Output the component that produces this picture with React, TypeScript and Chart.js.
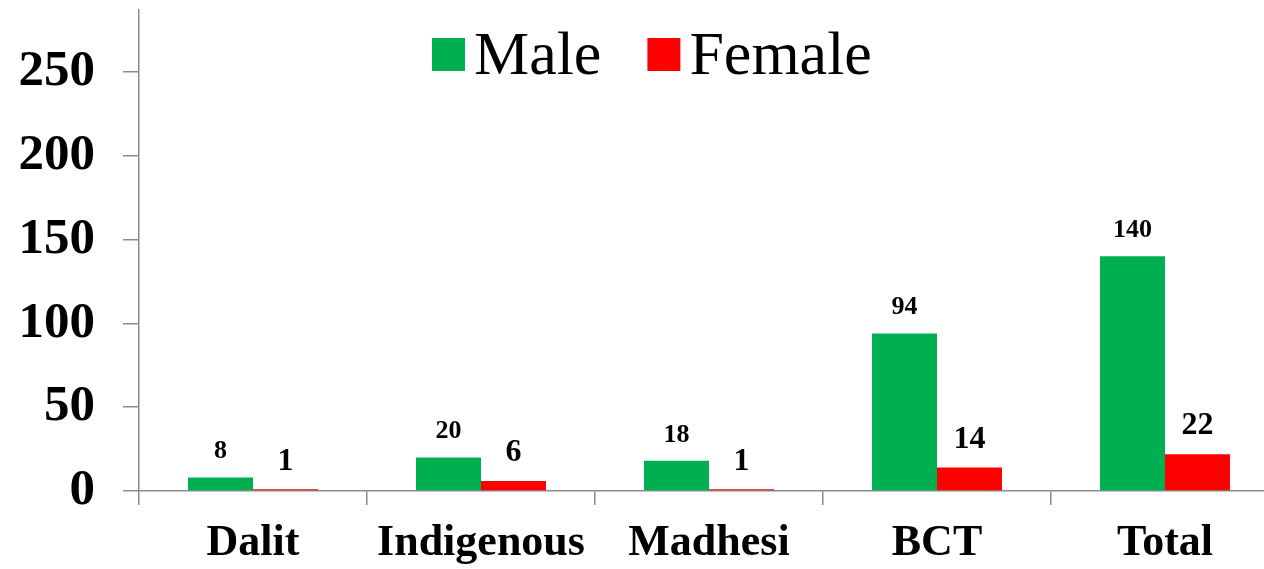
import React, { useEffect, useRef } from "react";
import { Chart, registerables } from "chart.js";
Chart.register(...registerables);

const categories = ["Dalit", "Indigenous", "Madhesi", "BCT", "Total"];
const maleValues = [8, 20, 18, 94, 140];
const femaleValues = [1, 6, 1, 14, 22];
const yTicks = [0, 50, 100, 150, 200, 250];
const seriesNames = ["Male", "Female"];
const seriesColors = ["#00B050", "#FF0000"];

const SERIF = '"Liberation Serif", "Times New Roman", serif';
const AXIS_COLOR = "#8c8c8c";

const valueLabelPlugin = {
  id: "valueLabels",
  afterDatasetsDraw(chart: any) {
    const ctx = chart.ctx;
    ctx.save();
    ctx.fillStyle = "#000";
    ctx.textAlign = "center";
    ctx.textBaseline = "middle";
    chart.data.datasets.forEach((ds: any, di: number) => {
      const meta = chart.getDatasetMeta(di);
      const size = di === 0 ? 26 : 32;
      const off = di === 0 ? 26 : 28;
      ctx.font = `bold ${size}px ${SERIF}`;
      meta.data.forEach((el: any, i: number) => {
        ctx.fillText(String(ds.data[i]), el.x, el.y - off);
      });
    });
    ctx.restore();
  },
};

const legendPlugin = {
  id: "customLegend",
  afterDraw(chart: any) {
    const ctx = chart.ctx;
    ctx.save();
    ctx.font = `62px ${SERIF}`;
    ctx.textBaseline = "alphabetic";
    ctx.textAlign = "left";
    let x = 432;
    const baseline = 74;
    chart.data.datasets.forEach((ds: any) => {
      ctx.fillStyle = ds.backgroundColor;
      ctx.fillRect(x, 38, 33, 33);
      x += 33 + 9;
      ctx.fillStyle = "#000";
      ctx.fillText(ds.label, x, baseline);
      x += ctx.measureText(ds.label).width + 46;
    });
    ctx.restore();
  },
};

export default function App() {
  const ref = useRef<HTMLCanvasElement | null>(null);
  useEffect(() => {
    if (!ref.current) return;
    const chart = new Chart(ref.current, {
      type: "bar",
      data: {
        labels: categories,
        datasets: [
          {
            label: seriesNames[0],
            data: maleValues,
            backgroundColor: seriesColors[0],
            categoryPercentage: 0.57,
            barPercentage: 1,
          },
          {
            label: seriesNames[1],
            data: femaleValues,
            backgroundColor: seriesColors[1],
            categoryPercentage: 0.57,
            barPercentage: 1,
          },
        ],
      },
      options: {
        animation: false,
        responsive: true,
        maintainAspectRatio: false,
        layout: { padding: { top: 10, right: 11, left: 0, bottom: 0 } },
        plugins: {
          legend: { display: false },
          tooltip: { enabled: false },
        },
        scales: {
          x: {
            grid: {
              drawOnChartArea: false,
              drawTicks: true,
              tickLength: 14,
              color: AXIS_COLOR,
              lineWidth: 1.5,
            },
            border: { color: AXIS_COLOR, width: 1.5 },
            ticks: {
              color: "#000",
              font: { family: SERIF, size: 44, weight: "bold" },
              padding: 12,
              maxRotation: 0,
              autoSkip: false,
            },
            afterFit: (scale: any) => {
              scale.height = 78;
              scale.paddingLeft = 0;
              scale.paddingRight = 0;
            },
          },
          y: {
            min: 0,
            max: 287,
            afterBuildTicks: (scale: any) => {
              scale.ticks = yTicks.map((v) => ({ value: v }));
            },
            grid: {
              drawOnChartArea: false,
              drawTicks: true,
              tickLength: 16,
              color: AXIS_COLOR,
              lineWidth: 1.5,
            },
            border: { color: AXIS_COLOR, width: 1.5 },
            ticks: {
              color: "#000",
              font: { family: SERIF, size: 51, weight: "bold" },
              padding: 28,
            },
            afterFit: (scale: any) => {
              scale.width = 139;
              scale.paddingTop = 0;
              scale.paddingBottom = 0;
            },
          },
        },
      },
      plugins: [valueLabelPlugin, legendPlugin],
    });
    return () => chart.destroy();
  }, []);

  return (
    <div
      style={{
        position: "fixed",
        left: 0,
        top: 0,
        width: 1264,
        height: 569,
        overflow: "hidden",
        background: "#fff",
      }}
    >
      <div style={{ position: "relative", width: 1290, height: 569 }}>
        <canvas ref={ref} />
      </div>
    </div>
  );
}
